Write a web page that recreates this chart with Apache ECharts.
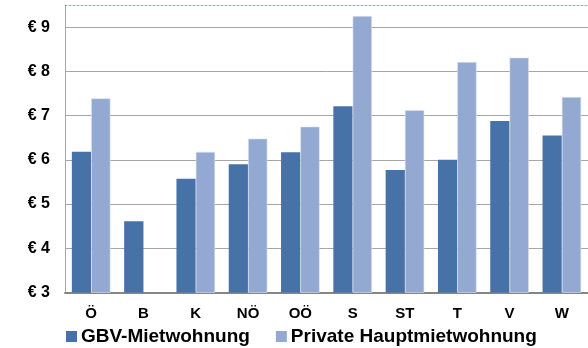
<!DOCTYPE html>
<html>
<head>
<meta charset="utf-8">
<script src="https://cdn.jsdelivr.net/npm/echarts@6/dist/echarts.min.js"></script>
<style>
  html, body { margin: 0; padding: 0; background: #fff; }
  #chart { width: 588px; height: 348px; }
</style>
</head>
<body>
<div id="chart"></div>
<script>
// Bundesländer (Ö = Österreich gesamt)
const categories = ['Ö', 'B', 'K', 'NÖ', 'OÖ', 'S', 'ST', 'T', 'V', 'W'];
// Miete je m² in Euro
const gbvValues = [6.18, 4.61, 5.57, 5.90, 6.17, 7.21, 5.77, 6.00, 6.88, 6.55];
const privatValues = [7.39, null, 6.18, 6.48, 6.75, 9.25, 7.12, 8.21, 8.31, 7.42];
const seriesNames = ['GBV-Mietwohnung', 'Private Hauptmietwohnung'];
const yTicks = [3, 4, 5, 6, 7, 8, 9];

const font = 'Liberation Sans, Arial, sans-serif';
const chart = echarts.init(document.getElementById('chart'), null, { renderer: 'canvas' });

chart.setOption({
  animation: false,
  grid: { left: 65, right: -6, top: 5, bottom: 55.5, containLabel: false },
  legend: {
    data: seriesNames,
    left: 61,
    top: 322,
    itemWidth: 11,
    itemHeight: 11,
    itemGap: 26,
    icon: 'rect',
    itemStyle: { borderWidth: 0 },
    textStyle: { fontFamily: font, fontWeight: 'bold', fontSize: 19, color: '#000', padding: [0, 0, 0, -1] }
  },
  xAxis: [{
    type: 'category',
    data: categories,
    axisLine: { lineStyle: { color: '#858585', width: 2 } },
    axisTick: { show: false },
    axisLabel: { fontFamily: font, fontWeight: 'bold', fontSize: 15, color: '#000', margin: 14 }
  }, {
    type: 'category',
    position: 'top',
    data: categories,
    axisLine: { lineStyle: { color: '#8eaad6', width: 1, type: [2, 2] } },
    axisTick: { show: false },
    axisLabel: { show: false }
  }],
  yAxis: {
    type: 'value',
    min: yTicks[0],
    max: 9.5,
    interval: 1,
    axisLine: { show: true, lineStyle: { color: '#a6a6a6', width: 1 } },
    axisTick: { show: false },
    splitLine: { showMaxLine: false, lineStyle: { color: '#a6a6a6', width: 1 } },
    axisLabel: {
      showMaxLabel: false,
      fontFamily: font, fontWeight: 'bold', fontSize: 16, color: '#000', margin: 15,
      formatter: v => (yTicks.includes(v) ? '€ ' + v : '')
    }
  },
  series: [{
    name: seriesNames[0],
    type: 'bar',
    data: gbvValues,
    barWidth: 19.3,
    barGap: '0%',
    itemStyle: { color: '#4672a8' }
  }, {
    name: seriesNames[1],
    type: 'bar',
    data: privatValues,
    barWidth: 19.3,
    barGap: '0%',
    itemStyle: { color: '#94a9d2', borderColor: '#dbe3f0', borderWidth: 0.6 }
  }]
});
</script>
</body>
</html>
